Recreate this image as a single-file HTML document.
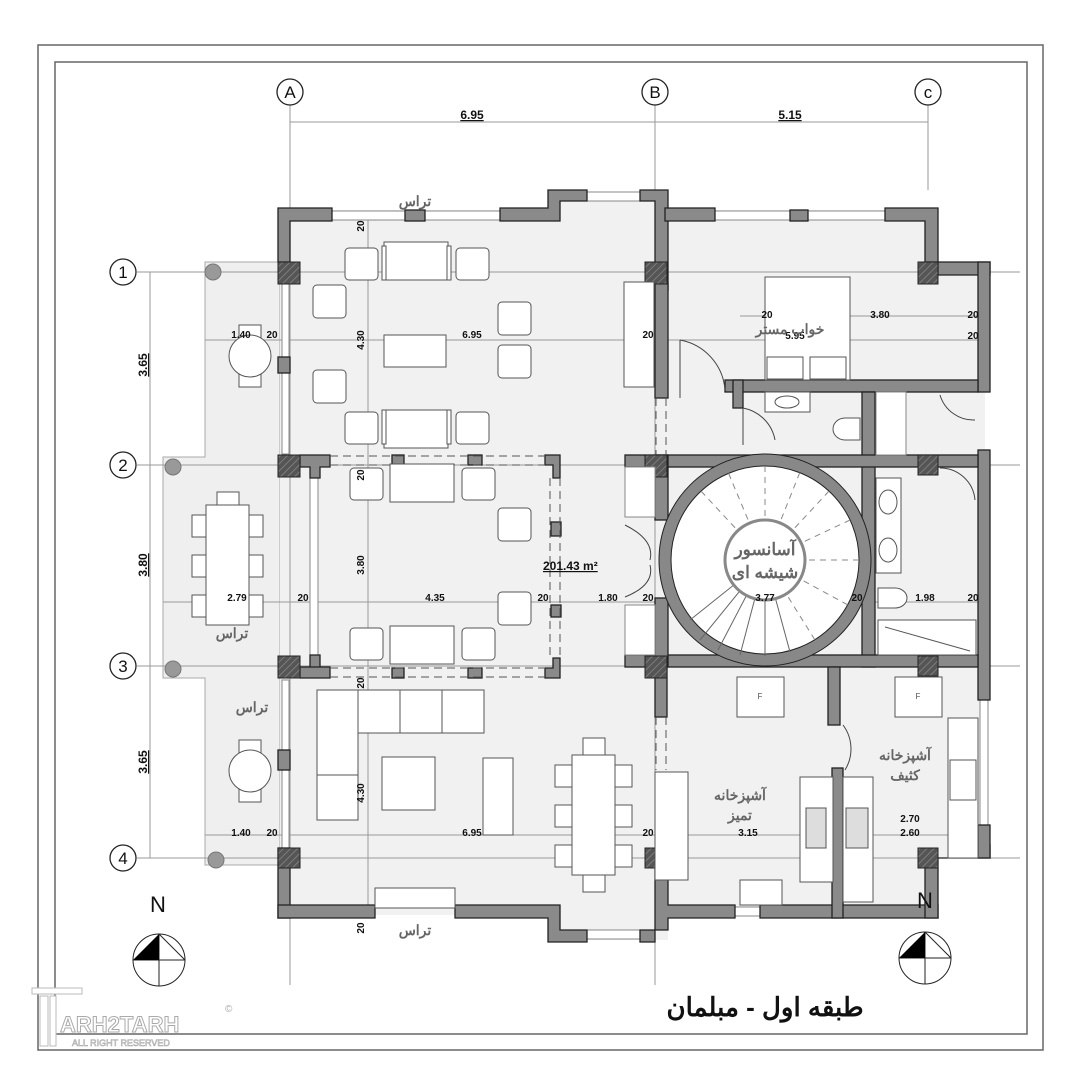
<!DOCTYPE html>
<html><head><meta charset="utf-8"><style>
html,body{margin:0;padding:0;background:#fff}
svg{display:block}
text{font-family:"Liberation Sans","Noto Sans CJK SC",sans-serif}
</style></head><body>
<svg width="1080" height="1080" viewBox="0 0 1080 1080" xmlns="http://www.w3.org/2000/svg">
<defs>
<pattern id="h" width="5" height="5" patternUnits="userSpaceOnUse" patternTransform="rotate(45)"><rect width="5" height="5" fill="#555"/><line x1="0" y1="0" x2="0" y2="5" stroke="#888" stroke-width="1.5"/></pattern>
</defs>
<rect width="1080" height="1080" fill="#fff"/>
<!-- border -->
<rect x="38" y="45" width="1005" height="1005" fill="none" stroke="#666" stroke-width="1.5"/>
<rect x="55" y="62" width="972" height="972" fill="none" stroke="#666" stroke-width="1.5"/>

<!-- terrace -->
<path d="M205 262 H280 V865 H205 V678 H163 V457 H205 Z" fill="#efefef" stroke="#aaa"/>
<!-- floor -->
<path d="M280 210 H560 V192 H655 V210 H938 V268 H985 V858 H938 V915 H668 V940 H548 V915 H280 Z" fill="#f1f1f1"/>

<!-- grid lines -->
<g stroke="#999" stroke-width="1">
<line x1="290" y1="105" x2="290" y2="985"/>
<line x1="655" y1="105" x2="655" y2="985"/>
<line x1="928" y1="105" x2="928" y2="190"/>
<line x1="137" y1="272" x2="1020" y2="272"/>
<line x1="137" y1="465" x2="1020" y2="465"/>
<line x1="137" y1="666" x2="1020" y2="666"/>
<line x1="137" y1="858" x2="1020" y2="858"/>
<line x1="290" y1="122" x2="928" y2="122"/>
<line x1="150" y1="272" x2="150" y2="858"/>
<line x1="205" y1="340" x2="990" y2="340"/>
<line x1="740" y1="316" x2="990" y2="316"/>
<line x1="163" y1="602" x2="990" y2="602"/>
<line x1="205" y1="835" x2="990" y2="835"/>
<line x1="368" y1="215" x2="368" y2="915"/>
</g>
<g fill="#fff" stroke="#222" stroke-width="1.3">
<circle cx="290" cy="92" r="13"/><circle cx="655" cy="92" r="13"/><circle cx="928" cy="92" r="13"/>
<circle cx="123" cy="272" r="13"/><circle cx="123" cy="465" r="13"/><circle cx="123" cy="666" r="13"/><circle cx="123" cy="858" r="13"/>
</g>
<g font-size="17" text-anchor="middle" fill="#111">
<text x="290" y="98">A</text><text x="655" y="98">B</text><text x="928" y="98">c</text>
<text x="123" y="278">1</text><text x="123" y="471">2</text><text x="123" y="672">3</text><text x="123" y="864">4</text>
</g>
<g font-size="12" font-weight="bold" text-anchor="middle" fill="#111">
<text x="472" y="119" text-decoration="underline">6.95</text>
<text x="790" y="119" text-decoration="underline">5.15</text>
<text transform="translate(147,365) rotate(-90)" text-decoration="underline">3.65</text>
<text transform="translate(147,565) rotate(-90)" text-decoration="underline">3.80</text>
<text transform="translate(147,762) rotate(-90)" text-decoration="underline">3.65</text>
</g>
<!-- terrace posts -->
<g fill="#999" stroke="#777"><circle cx="213" cy="272" r="8"/><circle cx="173" cy="467" r="8"/><circle cx="173" cy="669" r="8"/><circle cx="216" cy="860" r="8"/></g>

<!-- windows (white strips) -->
<g fill="#fff" stroke="#888" stroke-width="1">
<rect x="330" y="211" width="172" height="9"/>
<rect x="587" y="192" width="55" height="9"/>
<rect x="715" y="211" width="172" height="9"/>
<rect x="282" y="284" width="7" height="170"/>
<rect x="282" y="680" width="7" height="168"/>
<rect x="310" y="478" width="8" height="178"/>
<rect x="980" y="285" width="8" height="105"/>
<rect x="980" y="700" width="8" height="130"/>
<rect x="587" y="930" width="55" height="9"/>
<rect x="735" y="907" width="28" height="9"/>
</g>

<!-- walls -->
<g fill="#8a8a8a" stroke="#222" stroke-width="1.3">
<path d="M278 208 H332 V221 H290 V262 H278 Z"/>
<rect x="405" y="210" width="20" height="11"/>
<path d="M500 208 H548 V190 H587 V201 H560 V221 H500 Z"/>
<path d="M640 190 H668 V290 H655 V201 H640 Z"/>
<rect x="655" y="283" width="13" height="115"/>
<rect x="278" y="357" width="12" height="16"/>
<rect x="278" y="750" width="12" height="20"/>
<rect x="278" y="848" width="12" height="70"/>
<path d="M278 905 H375 V918 H278 Z"/>
<path d="M455 905 H560 V930 H587 V942 H548 V918 H455 Z"/>
<path d="M640 930 H668 V918 H735 V905 H668 V850 H655 V942 H640 Z"/>
<path d="M760 905 H938 V918 H760 Z"/>
<path d="M925 858 H990 V845 H978 V858 Z"/>
<rect x="925" y="858" width="13" height="60"/>
<path d="M665 208 H715 V221 H665 Z"/>
<rect x="790" y="210" width="18" height="11"/>
<path d="M885 208 H938 V262 H925 V221 H885 Z"/>
<path d="M938 262 H990 V275 H938 Z"/>
<rect x="978" y="262" width="12" height="130"/>
<rect x="978" y="450" width="12" height="250"/>
<rect x="978" y="825" width="12" height="33"/>
<!-- interior -->
<rect x="725" y="380" width="253" height="12"/>
<rect x="733" y="380" width="10" height="28"/>
<rect x="862" y="392" width="13" height="275"/>
<rect x="625" y="455" width="353" height="12"/>
<rect x="625" y="655" width="353" height="12"/>
<rect x="655" y="455" width="13" height="65"/>
<rect x="655" y="598" width="13" height="69"/>
<rect x="655" y="667" width="12" height="50"/>
<rect x="828" y="667" width="12" height="58"/>
<rect x="832" y="768" width="11" height="150"/>
<!-- living hall columns -->
<path d="M300 455 H330 V467 H320 V478 H310 V467 H300 Z"/>
<path d="M300 667 H330 V678 H300 Z M310 655 H320 V667 H310 Z"/>
<rect x="392" y="455" width="12" height="10"/><rect x="468" y="455" width="14" height="10"/>
<rect x="392" y="668" width="12" height="10"/><rect x="468" y="668" width="14" height="10"/>
<path d="M545 455 H560 V478 H553 V465 H545 Z"/>
<path d="M545 668 H553 V658 H560 V678 H545 Z"/>
<rect x="551" y="522" width="10" height="14"/><rect x="551" y="605" width="10" height="12"/>
</g>
<!-- dashed beams -->
<g stroke="#555" stroke-width="1" stroke-dasharray="8,5" fill="none">
<line x1="330" y1="456" x2="545" y2="456"/><line x1="330" y1="465" x2="545" y2="465"/>
<line x1="330" y1="668" x2="545" y2="668"/><line x1="330" y1="677" x2="545" y2="677"/>
<line x1="550" y1="478" x2="550" y2="658"/><line x1="560" y1="478" x2="560" y2="658"/>
<line x1="656" y1="398" x2="656" y2="455"/><line x1="666" y1="398" x2="666" y2="455"/>
<line x1="656" y1="717" x2="656" y2="770"/><line x1="666" y1="717" x2="666" y2="770"/>
</g>
<!-- hatched columns -->
<g fill="url(#h)" stroke="#222">
<rect x="278" y="262" width="22" height="22"/><rect x="278" y="455" width="22" height="22"/><rect x="278" y="656" width="22" height="22"/><rect x="278" y="848" width="22" height="20"/>
<rect x="645" y="262" width="22" height="22"/><rect x="645" y="455" width="22" height="22"/><rect x="645" y="656" width="22" height="22"/><rect x="645" y="848" width="22" height="20"/>
<rect x="918" y="262" width="20" height="22"/><rect x="918" y="455" width="20" height="20"/><rect x="918" y="656" width="20" height="20"/><rect x="918" y="848" width="20" height="20"/>
</g>

<!-- spiral stair -->
<circle cx="765" cy="560" r="100" fill="#fff" stroke="#888" stroke-width="12"/>
<circle cx="765" cy="560" r="106" fill="none" stroke="#222" stroke-width="1"/>
<circle cx="765" cy="560" r="94" fill="none" stroke="#222" stroke-width="1"/>
<g stroke="#666" stroke-width="1">
<line x1="765" y1="560" x2="690" y2="620"/><line x1="765" y1="560" x2="700" y2="640"/><line x1="765" y1="560" x2="718" y2="650"/><line x1="765" y1="560" x2="740" y2="655"/><line x1="765" y1="560" x2="765" y2="656"/><line x1="765" y1="560" x2="790" y2="652"/>
</g>
<g stroke="#888" stroke-width="1" stroke-dasharray="6,5">
<line x1="765" y1="560" x2="858" y2="560"/><line x1="765" y1="560" x2="850" y2="520"/><line x1="765" y1="560" x2="830" y2="490"/><line x1="765" y1="560" x2="800" y2="472"/><line x1="765" y1="560" x2="765" y2="465"/><line x1="765" y1="560" x2="728" y2="472"/><line x1="765" y1="560" x2="700" y2="490"/><line x1="765" y1="560" x2="815" y2="640"/><line x1="765" y1="560" x2="848" y2="605"/>
</g>
<circle cx="765" cy="560" r="40" fill="#fff" stroke="#888" stroke-width="3"/>
<text x="765" y="555" font-size="17" font-weight="bold" text-anchor="middle" fill="#666">آسانسور</text>
<text x="765" y="578" font-size="17" font-weight="bold" text-anchor="middle" fill="#666">شیشه ای</text>
<!-- side stairs -->
<g fill="#fff" stroke="#888"><rect x="625" y="467" width="30" height="50"/><rect x="625" y="605" width="30" height="50"/><rect x="876" y="392" width="30" height="63"/></g>
<!-- doors -->
<g fill="none" stroke="#444" stroke-width="1">
<path d="M625 525 Q655 540 650 560 M625 597 Q655 585 650 565"/>
<path d="M680 340 V398 M680 340 A55 55 0 0 1 725 390"/>
<path d="M743 408 V445 M743 408 A40 40 0 0 1 775 440"/>
<path d="M940 395 A35 35 0 0 0 975 420"/>
<path d="M940 468 A35 35 0 0 1 975 500"/>
<path d="M843 725 A40 40 0 0 1 845 770"/>
</g>

<!-- furniture -->
<g fill="#fff" stroke="#555" stroke-width="1">
<!-- top lounge -->
<rect x="384" y="242" width="64" height="38"/><rect x="382" y="246" width="4" height="34"/><rect x="447" y="246" width="4" height="34"/>
<rect x="345" y="248" width="33" height="32" rx="4"/><rect x="456" y="248" width="33" height="32" rx="4"/>
<rect x="313" y="285" width="33" height="33" rx="4"/><rect x="498" y="302" width="33" height="33" rx="4"/><rect x="498" y="345" width="33" height="33" rx="4"/>
<rect x="384" y="335" width="62" height="32"/><rect x="313" y="370" width="33" height="33" rx="4"/>
<rect x="384" y="410" width="64" height="38"/><rect x="382" y="410" width="4" height="34"/><rect x="447" y="410" width="4" height="34"/>
<rect x="345" y="412" width="33" height="32" rx="4"/><rect x="456" y="412" width="33" height="32" rx="4"/>
<rect x="624" y="282" width="30" height="105"/>
<!-- middle lounge -->
<rect x="390" y="464" width="64" height="38"/><rect x="350" y="468" width="33" height="32" rx="4"/><rect x="462" y="468" width="33" height="32" rx="4"/>
<rect x="498" y="508" width="33" height="33" rx="4"/><rect x="498" y="592" width="33" height="33" rx="4"/>
<rect x="390" y="626" width="64" height="38"/><rect x="350" y="628" width="33" height="32" rx="4"/><rect x="462" y="628" width="33" height="32" rx="4"/>
<!-- lower lounge -->
<path d="M317 690 H484 V733 H358 V820 H317 Z"/>
<line x1="358" y1="733" x2="358" y2="690"/><line x1="400" y1="690" x2="400" y2="733"/><line x1="442" y1="690" x2="442" y2="733"/><line x1="317" y1="775" x2="358" y2="775"/>
<rect x="382" y="757" width="53" height="53"/><rect x="483" y="758" width="30" height="77"/>
<rect x="375" y="888" width="80" height="20"/>
<!-- dining -->
<rect x="572" y="755" width="43" height="120"/>
<rect x="583" y="738" width="22" height="17"/><rect x="583" y="875" width="22" height="17"/>
<rect x="555" y="765" width="17" height="22"/><rect x="555" y="805" width="17" height="22"/><rect x="555" y="845" width="17" height="22"/>
<rect x="615" y="765" width="17" height="22"/><rect x="615" y="805" width="17" height="22"/><rect x="615" y="845" width="17" height="22"/>
<rect x="655" y="772" width="33" height="108"/>
<!-- terrace tables -->
<rect x="206" y="505" width="43" height="120"/><rect x="217" y="492" width="22" height="13"/>
<rect x="192" y="515" width="14" height="22"/><rect x="192" y="555" width="14" height="22"/><rect x="192" y="595" width="14" height="22"/>
<rect x="249" y="515" width="14" height="22"/><rect x="249" y="555" width="14" height="22"/><rect x="249" y="595" width="14" height="22"/>
<rect x="239" y="325" width="22" height="62"/><circle cx="250" cy="356" r="21"/>
<rect x="239" y="740" width="22" height="62"/><circle cx="250" cy="771" r="21"/>
<!-- bedroom -->
<rect x="765" y="277" width="85" height="103"/><rect x="767" y="357" width="36" height="22"/><rect x="810" y="357" width="36" height="22"/>
<rect x="765" y="392" width="45" height="20"/><ellipse cx="787" cy="402" rx="12" ry="6"/>
<path d="M860 418 V440 H845 A12 11 0 0 1 845 418 Z"/>
<!-- bath -->
<rect x="876" y="478" width="25" height="95"/><ellipse cx="888" cy="502" rx="9" ry="12"/><ellipse cx="888" cy="550" rx="9" ry="12"/>
<path d="M878 588 V608 H895 A12 10 0 0 0 895 588 Z"/>
<rect x="878" y="620" width="98" height="35"/><line x1="885" y1="627" x2="970" y2="651"/>
<!-- kitchen -->
<rect x="737" y="677" width="47" height="40"/><rect x="895" y="677" width="47" height="40"/>
<rect x="948" y="718" width="30" height="140"/><rect x="950" y="760" width="26" height="40"/>
<rect x="800" y="777" width="33" height="105"/><rect x="843" y="777" width="30" height="125"/>
<rect x="806" y="808" width="20" height="40" fill="#ddd"/><rect x="846" y="808" width="22" height="40" fill="#ddd"/>
<rect x="740" y="880" width="42" height="25"/>
</g>
<g font-size="8" fill="#555" text-anchor="middle"><text x="760" y="699">F</text><text x="918" y="699">F</text></g>

<!-- dimension labels -->
<g font-size="10" font-weight="bold" fill="#111" text-anchor="middle">
<text x="241" y="338">1.40</text><text x="272" y="338">20</text><text x="472" y="338">6.95</text><text x="648" y="338">20</text>
<text x="767" y="318">20</text><text x="880" y="318">3.80</text><text x="973" y="318">20</text>
<text x="795" y="339">5.95</text><text x="973" y="339">20</text>
<text x="237" y="601">2.79</text><text x="303" y="601">20</text><text x="435" y="601">4.35</text><text x="543" y="601">20</text><text x="608" y="601">1.80</text><text x="648" y="601">20</text><text x="765" y="601">3.77</text><text x="857" y="601">20</text><text x="925" y="601">1.98</text><text x="973" y="601">20</text>
<text x="241" y="836">1.40</text><text x="272" y="836">20</text><text x="472" y="836">6.95</text><text x="648" y="836">20</text><text x="748" y="836">3.15</text><text x="910" y="822">2.70</text><text x="910" y="836">2.60</text>
<text transform="translate(364,226) rotate(-90)">20</text>
<text transform="translate(364,340) rotate(-90)">4.30</text>
<text transform="translate(364,475) rotate(-90)">20</text>
<text transform="translate(364,565) rotate(-90)">3.80</text>
<text transform="translate(364,683) rotate(-90)">20</text>
<text transform="translate(364,793) rotate(-90)">4.30</text>
<text transform="translate(364,928) rotate(-90)">20</text>
</g>
<text x="543" y="570" font-size="12" font-weight="bold" fill="#111" text-decoration="underline">201.43 m²</text>

<!-- room labels -->
<g font-size="14" font-weight="bold" fill="#666" text-anchor="middle">
<text x="415" y="206">تراس</text><text x="232" y="638">تراس</text><text x="252" y="712">تراس</text><text x="415" y="935">تراس</text>
<text x="790" y="334">خواب مستر</text>
<text x="740" y="800">آشپزخانه</text><text x="740" y="820">تمیز</text>
<text x="905" y="760">آشپزخانه</text><text x="905" y="780">کثیف</text>
</g>

<!-- north -->
<text x="158" y="912" font-size="22" text-anchor="middle" fill="#111">N</text>
<text x="925" y="908" font-size="22" text-anchor="middle" fill="#111">N</text>
<g stroke="#222" stroke-width="1" fill="none">
<circle cx="159" cy="960" r="26"/><line x1="159" y1="934" x2="159" y2="986"/><line x1="133" y1="960" x2="185" y2="960"/><line x1="159" y1="934" x2="185" y2="960"/>
<circle cx="925" cy="958" r="26"/><line x1="925" y1="932" x2="925" y2="984"/><line x1="899" y1="958" x2="951" y2="958"/><line x1="925" y1="932" x2="951" y2="958"/>
</g>
<path d="M159 934 V960 H133 Z" fill="#000"/><path d="M925 932 V958 H899 Z" fill="#000"/>

<!-- title -->
<text x="765" y="1016" font-size="26" font-weight="bold" text-anchor="middle" fill="#111">طبقه اول - مبلمان</text>
<!-- watermark -->
<g fill="#fff" stroke="#bbb" stroke-width="1">
<rect x="32" y="988" width="50" height="6"/><rect x="40" y="996" width="8" height="50"/><rect x="50" y="996" width="6" height="50"/>
</g>
<text x="60" y="1032" font-size="22" font-weight="bold" fill="#fff" stroke="#aaa" stroke-width="1">ARH2TARH</text>
<text x="72" y="1046" font-size="9" fill="#fff" stroke="#aaa" stroke-width="0.6">ALL RIGHT RESERVED</text>
<text x="225" y="1012" font-size="10" fill="#aaa">©</text>
</svg>
</body></html>
